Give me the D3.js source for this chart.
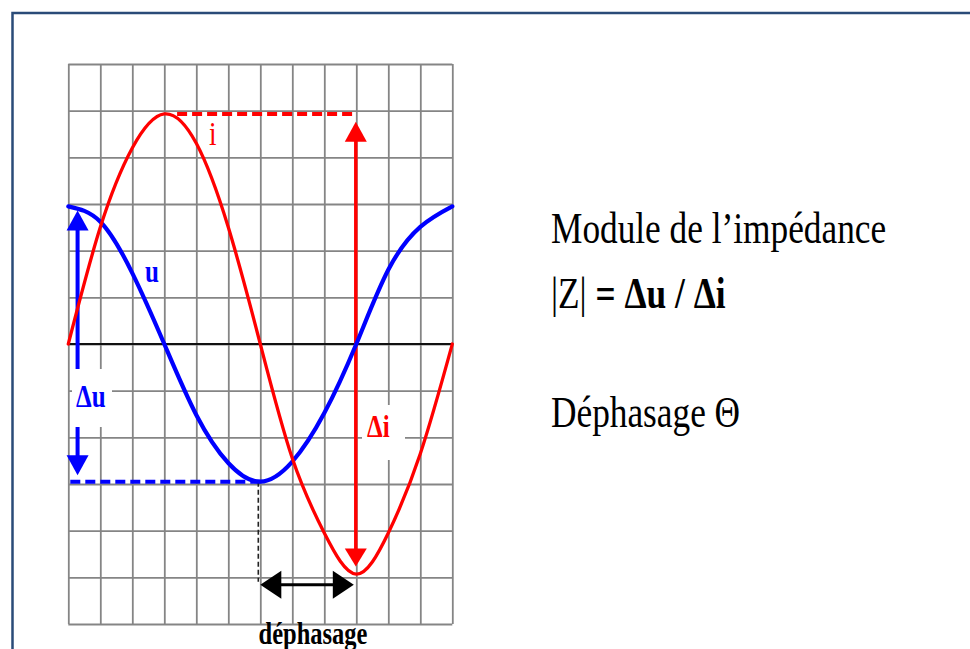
<!DOCTYPE html>
<html>
<head>
<meta charset="utf-8">
<script src="https://cdn.jsdelivr.net/npm/d3@7"></script>
<style>
  html, body { margin: 0; padding: 0; background: #fff; overflow: hidden; }
  svg { display: block; }
</style>
</head>
<body>
<svg id="chart" width="970" height="649"></svg>
<script>
// Oscilloscope screen: 12 horizontal divisions, 12 vertical divisions
const divisions = [0, 1, 2, 3, 4, 5, 6, 7, 8, 9, 10, 11, 12];
const rowDivisions = [-6, -5, -4, -3, -2, -1, 0, 1, 2, 3, 4, 5, 6];

// Voltage u and current i, in vertical divisions, read at each horizontal division
const uValues = [2.95, 2.62, 1.52, 0, -1.52, -2.55, -2.95, -2.52, -1.48, 0, 1.59, 2.51, 2.95];
const iValues = [0, 2.5, 4.2, 4.93, 4.3, 2.5, 0, -2.45, -4.05, -4.93, -4.05, -2.35, 0];

// Peak readings and the time lag between the two traces
const uPeak = 2.95;
const iPeak = 4.93;
const uArrowTips = [2.86, -2.81];   // Δu arrow, tips
const iArrowTips = [4.76, -4.77];   // Δi arrow, tips
const uMinAt = 6;                   // division where u reaches its minimum
const iMinAt = 9;                   // division where i reaches its minimum
const uArrowAt = 0.29;              // horizontal division of the Δu arrow
const lagLevel = -5.16;             // vertical level of the phase-lag arrow

// Texts
const traceLabels = ["u", "i"];
const deltaLabels = ["Δu", "Δi"];
const lagLabel = "déphasage";
const sideLines = ["Module de l\u2019impédance", "Déphasage \u0398"];

const RED = "#ff0000", BLUE = "#0000ff";
const SERIF = "'Liberation Serif', 'Times New Roman', serif";
const STRETCH = 1.28;

const svg = d3.select("#chart");

// Outer frame
svg.append("rect")
  .attr("x", 12.5).attr("y", 13).attr("width", 1000).attr("height", 700)
  .attr("fill", "#fff").attr("stroke", "#2a4b78").attr("stroke-width", 2.5);

const x = d3.scaleLinear().domain([0, 12]).range([68.3, 452.3]);
const y = d3.scaleLinear().domain([-6, 6]).range([624, 64]);

// Grid drawn from axes with full-length ticks
const grid = svg.append("g");
grid.append("g")
  .attr("transform", `translate(0,${y(-6)})`)
  .call(d3.axisBottom(x).tickValues(divisions).tickSize(-(y(-6) - y(6))).tickFormat(""));
grid.append("g")
  .attr("transform", `translate(${x(0)},0)`)
  .call(d3.axisLeft(y).tickValues(rowDivisions).tickSize(-(x(12) - x(0))).tickFormat(""));
grid.selectAll(".domain").remove();
grid.selectAll(".tick line").attr("stroke", "#858585").attr("stroke-width", 1.8);

// Zero line
svg.append("line")
  .attr("x1", x(0)).attr("x2", x(12)).attr("y1", y(0)).attr("y2", y(0))
  .attr("stroke", "#111").attr("stroke-width", 2);

// Arrow head helper: tip at (tx,ty), pointing along (dx,dy)
function head(g, tx, ty, dx, dy, len, half, color) {
  const px = -dy, py = dx;
  const bx = tx - dx * len, by = ty - dy * len;
  g.append("path")
    .attr("d", `M${tx},${ty}L${bx + px * half},${by + py * half}L${bx - px * half},${by - py * half}Z`)
    .attr("fill", color);
}

const ann = svg.append("g");

// Dashed reference levels
ann.append("line")
  .attr("x1", x(3.4)).attr("x2", x(iMinAt)).attr("y1", y(iPeak)).attr("y2", y(iPeak))
  .attr("stroke", RED).attr("stroke-width", 4).attr("stroke-dasharray", "10,5");
ann.append("line")
  .attr("x1", x(0) + 2).attr("x2", x(uMinAt)).attr("y1", y(-uPeak)).attr("y2", y(-uPeak))
  .attr("stroke", BLUE).attr("stroke-width", 4).attr("stroke-dasharray", "10,5");
ann.append("line")
  .attr("x1", x(uMinAt) - 2).attr("x2", x(uMinAt) - 2).attr("y1", y(-uPeak)).attr("y2", y(lagLevel) - 3)
  .attr("stroke", "#222").attr("stroke-width", 1.6).attr("stroke-dasharray", "5,3");

// Δu arrow
const ux = x(uArrowAt);
ann.append("line")
  .attr("x1", ux).attr("x2", ux).attr("y1", y(uArrowTips[0]) + 15).attr("y2", y(uArrowTips[1]) - 15)
  .attr("stroke", BLUE).attr("stroke-width", 4);
head(ann, ux, y(uArrowTips[0]), 0, -1, 20, 11, BLUE);
head(ann, ux, y(uArrowTips[1]), 0, 1, 20, 11, BLUE);

// Δi arrow
const ix = x(iMinAt) - 0.5;
ann.append("line")
  .attr("x1", ix).attr("x2", ix).attr("y1", y(iArrowTips[0]) + 15).attr("y2", y(iArrowTips[1]) - 15)
  .attr("stroke", RED).attr("stroke-width", 3.5);
head(ann, ix, y(iArrowTips[0]), 0, -1, 20, 11, RED);
head(ann, ix, y(iArrowTips[1]), 0, 1, 18, 11, RED);

// Phase lag arrow
const ly = y(lagLevel);
ann.append("line")
  .attr("x1", x(uMinAt) + 10).attr("x2", x(iMinAt) - 12).attr("y1", ly).attr("y2", ly)
  .attr("stroke", "#000").attr("stroke-width", 3);
head(ann, x(uMinAt), ly, -1, 0, 21, 14, "#000");
head(ann, x(iMinAt) - 2.5, ly, 1, 0, 21, 14, "#000");

// White boxes behind the Δ labels
svg.append("rect").attr("x", 72).attr("y", 369).attr("width", 40).attr("height", 58).attr("fill", "#fff");
svg.append("rect").attr("x", 362).attr("y", 405).attr("width", 43).attr("height", 55).attr("fill", "#fff");

// Traces
const line = d3.line().curve(d3.curveNatural);
svg.append("path")
  .attr("d", line(divisions.map((d, k) => [x(d), y(uValues[k])])))
  .attr("fill", "none").attr("stroke", BLUE).attr("stroke-width", 4.2)
  .attr("stroke-linecap", "round");
svg.append("path")
  .attr("d", line(divisions.map((d, k) => [x(d), y(iValues[k])])))
  .attr("fill", "none").attr("stroke", RED).attr("stroke-width", 3.3)
  .attr("stroke-linecap", "round");

// Text helper with the vertically stretched lettering
function label(str, tx, ty, opts) {
  const t = svg.append("text")
    .attr("transform", `translate(${tx},${ty}) scale(1,${STRETCH})`)
    .attr("font-family", SERIF)
    .attr("font-size", opts.size)
    .attr("font-weight", opts.weight || "normal")
    .attr("fill", opts.color || "#000")
    .attr("text-anchor", opts.anchor || "start");
  t.text(str);
  return t;
}

label(traceLabels[0], 145, 282, { size: 25, weight: "bold", color: BLUE });
label(traceLabels[1], 209, 145, { size: 27, color: RED });
label(deltaLabels[0], 76, 407, { size: 25, weight: "bold", color: BLUE });
label(deltaLabels[1], 367, 437, { size: 25, weight: "bold", color: RED });
label(lagLabel, 313, 644, { size: 24.5, weight: "bold", anchor: "middle" });

// Side text
label(sideLines[0], 551, 243, { size: 35.3 });
const zl = label("", 551, 308, { size: 35.3 });
zl.append("tspan").text("|Z| ");
zl.append("tspan").attr("font-weight", "bold").text("= \u0394u / \u0394i");
label(sideLines[1], 551, 427, { size: 35.3 });
</script>
</body>
</html>
